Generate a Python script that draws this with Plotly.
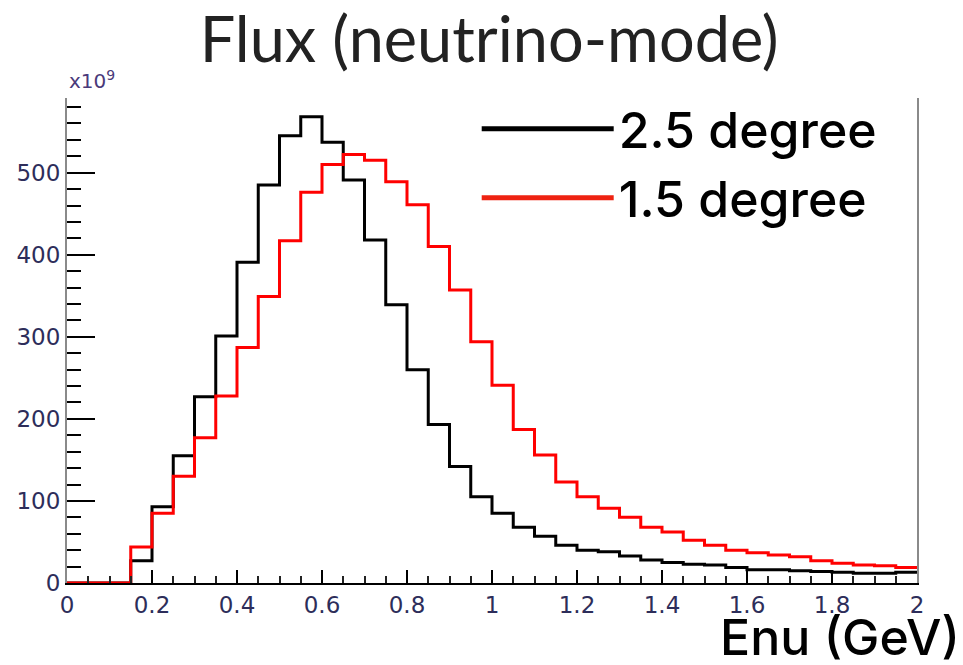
import plotly.graph_objects as go

# Bin lower edges (GeV), bin width 0.05, range 0-2
bin_edges = [round(i * 0.05, 2) for i in range(41)]

flux_25deg = [0, 0, 0, 27, 93, 155, 227, 301, 391, 485,
              545, 568, 537, 491, 418, 339, 260, 193, 142, 105,
              85, 68, 57, 46, 40, 38, 33, 28, 25, 23,
              22, 19, 16, 16, 15, 14, 13, 12, 12, 13]

flux_15deg = [0, 0, 0, 44, 85, 130, 177, 228, 287, 349,
              417, 476, 510, 522, 515, 489, 461, 410, 357, 294,
              241, 187, 156, 123, 105, 91, 80, 68, 62, 52,
              46, 40, 37, 34, 32, 27, 24, 22, 21, 19]

series = [("2.5 degree", flux_25deg, "#000000", "#000000"),
          ("1.5 degree", flux_15deg, "#ff0000", "#ee2211")]

fig = go.Figure()
for i, (name, vals, col, legcol) in enumerate(series):
    fig.add_trace(go.Scatter(
        x=bin_edges, y=vals + [vals[-1]],
        mode="lines", line=dict(color=col, width=3, shape="hv"),
        name=name, legendgroup=f"g{i}", showlegend=False))
    # legend entry (thicker line, as in the reference legend)
    fig.add_trace(go.Scatter(
        x=[None], y=[None], mode="lines",
        line=dict(color=legcol, width=5),
        name=name, legendgroup=f"g{i}", showlegend=True))

tickfont = dict(family="DejaVu Sans", size=23, color="#2d2d5a")
labfont = "Inter, Noto Sans CJK JP"

fig.update_layout(
    width=963, height=665,
    margin=dict(l=67, r=46, t=98, b=82),
    plot_bgcolor="white", paper_bgcolor="white",
    title=dict(text="Flux (neutrino-mode)", x=0.508, xref="container",
               y=1 - 40 / 665, yref="container", xanchor="center", yanchor="middle",
               font=dict(family="Lato", size=63, color="#222222")),
    xaxis=dict(range=[0, 2], dtick=0.2, showgrid=False, zeroline=False,
               showline=True, linecolor="#000000", linewidth=2, mirror=False,
               ticks="inside", ticklen=13, tickwidth=2, tickcolor="#000000",
               minor=dict(dtick=0.05, ticks="inside", ticklen=7, tickwidth=1.5, tickcolor="#222222"),
               tickfont=tickfont),
    yaxis=dict(range=[0, 591], dtick=100, showgrid=False, zeroline=False,
               showline=True, linecolor="#8a8a8a", linewidth=2, mirror=True,
               ticks="inside", ticklen=28, tickwidth=2, tickcolor="#000000",
               minor=dict(dtick=20, ticks="inside", ticklen=14, tickwidth=2, tickcolor="#000000"),
               tickfont=tickfont),
    legend=dict(x=0.482, y=1.017, xanchor="left", yanchor="top",
                bgcolor="rgba(0,0,0,0)", itemwidth=132, tracegroupgap=1,
                font=dict(family=labfont, size=50, color="#000000", weight=500)),
    showlegend=True,
)

fig.add_annotation(text="x10<sup>9</sup>", xref="paper", yref="paper",
                   x=0.0, y=1.0, xanchor="left", yanchor="bottom", yshift=3,
                   showarrow=False, font=dict(family="DejaVu Sans", size=20, color="#4a3a7a"))
fig.add_annotation(text="Enu (GeV)", xref="paper", yref="paper",
                   x=(962 - 67) / 850, y=-(637 - 583) / 485, xanchor="right", yanchor="middle",
                   showarrow=False, font=dict(family=labfont, size=50, color="#000000", weight=500))

fig.write_html("out.html")
